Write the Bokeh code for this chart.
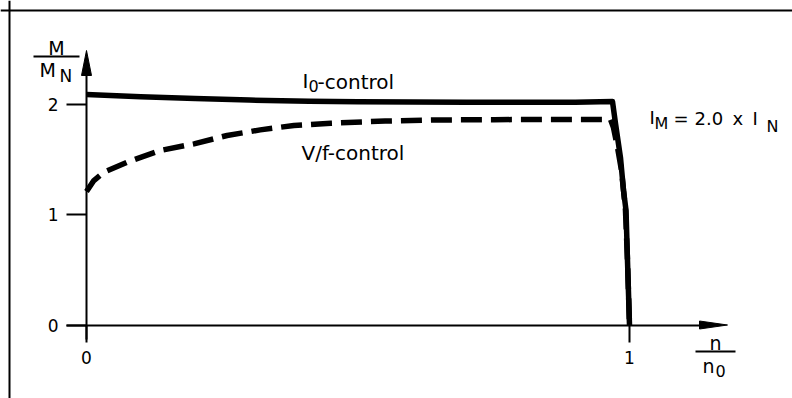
from bokeh.plotting import figure
from bokeh.models import Range1d, LinearAxis, FixedTicker, Label, Span
from bokeh.embed import file_html
from bokeh.resources import INLINE

# ---------------- data (n/n0 , M/MN) ----------------
i0_speed = [0.0, 0.1, 0.2, 0.3, 0.41, 0.5, 0.6, 0.7, 0.8, 0.9, 0.9687,
            0.9742, 0.9834, 0.989, 0.9936, 0.9963, 1.0]
i0_torque = [2.09, 2.07, 2.055, 2.04, 2.03, 2.025, 2.022, 2.02, 2.02, 2.02, 2.027,
             1.828, 1.519, 1.22, 1.039, 0.585, 0.0]

vf_speed = [0.0, 0.0135, 0.032, 0.075, 0.136, 0.198, 0.259, 0.32, 0.382, 0.45,
            0.55, 0.65, 0.75, 0.85, 0.965, 0.9705, 0.9779, 0.9853, 0.989,
            0.9926, 0.9963, 1.0]
vf_torque = [1.21, 1.31, 1.386, 1.477, 1.583, 1.643, 1.719, 1.77, 1.81, 1.83,
             1.85, 1.86, 1.862, 1.865, 1.865, 1.79, 1.61, 1.40, 1.22,
             1.04, 0.585, 0.0]

x_ticks = [0, 1]
y_ticks = [0, 1, 2]

# ---------------- layout (page pixels) ----------------
OFF = 0           # page offset of the plot canvas
W, H = 792, 398
PX_X = 543.0      # pixels per unit on x
PX_Y = 110.25     # pixels per unit on y
X0_PAGE = 86.0    # page x of n = 0
Y0_PAGE = 324.5   # page y of M = 0
TXT_SHIFT = 5     # baseline correction for labels
xs = -(X0_PAGE - OFF) / PX_X
xe = xs + W / PX_X
ye = (Y0_PAGE - OFF) / PX_Y
ys = ye - H / PX_Y


def X(px):
    return xs + (px - OFF) / PX_X


def Y(py):
    return ye - (py - OFF) / PX_Y


FONT = "DejaVu Sans"

p = figure(width=W, height=H, x_range=Range1d(xs, xe), y_range=Range1d(ys, ye),
           output_backend="svg", toolbar_location=None, min_border=0,
           x_axis_type=None, y_axis_type=None)
p.outline_line_color = None
p.background_fill_color = "white"
p.border_fill_color = "white"

# border (top and left only)
p.add_layout(Span(location=Y(10), dimension="width", line_color="black", line_width=2))
p.add_layout(Span(location=X(9), dimension="height", line_color="black", line_width=2))

# axes
yaxis = LinearAxis(fixed_location=0, ticker=FixedTicker(ticks=y_ticks),
                   bounds=(Y(339), Y(72)), major_tick_out=20, major_tick_in=0,
                   minor_tick_out=0, minor_tick_in=0, axis_line_width=2,
                   major_tick_line_width=2, major_label_text_font=FONT,
                   major_label_text_font_size="17px", major_label_standoff=8,
                   major_label_text_color="black")
p.add_layout(yaxis, "left")
xaxis = LinearAxis(fixed_location=0, ticker=FixedTicker(ticks=x_ticks),
                   bounds=(X(66), X(702)), major_tick_out=17, major_tick_in=0,
                   minor_tick_out=0, minor_tick_in=0, axis_line_width=2,
                   major_tick_line_width=2, major_label_text_font=FONT,
                   major_label_text_font_size="17px", major_label_standoff=9,
                   major_label_text_color="black")
p.add_layout(xaxis, "below")

# arrow heads
p.patch([X(86), X(81), X(91)], [Y(50), Y(75), Y(75)], color="black")
p.patch([X(727), X(699), X(699)], [Y(324.5), Y(320.5), Y(328.5)], color="black")

# curves
p.line(i0_speed, i0_torque, line_color="black", line_width=5.5, line_join="round")
p.line(vf_speed, vf_torque, line_color="black", line_width=5.5, line_dash="21 9",
       line_join="round")


def lab(px, py, text, size, align="left"):
    p.add_layout(Label(x=X(px), y=Y(py - TXT_SHIFT), text=text, text_font=FONT,
                       text_font_size=f"{size}px", text_baseline="alphabetic",
                       text_align=align, text_color="black"))


# y axis unit label M / M_N
lab(56, 52, "M", 19, "center")
p.segment(x0=[X(33)], y0=[Y(56)], x1=[X(79)], y1=[Y(56)], line_color="black", line_width=2)
lab(39, 74, "M", 19)
lab(59, 80, "N", 17)

# x axis unit label n / n_0
lab(715, 347, "n", 19, "center")
p.segment(x0=[X(695)], y0=[Y(351)], x1=[X(735)], y1=[Y(351)], line_color="black", line_width=2)
lab(702, 370, "n", 19)
lab(715, 375, "0", 16)

# curve labels
lab(302, 85, "I", 20)
lab(308, 90, "0", 16)
lab(317, 86, "-control", 20)
lab(301, 157, "V/f-control", 20)

# current limit note
lab(649, 122, "I", 18)
lab(654, 128, "M", 16)
lab(673, 123, "=", 18)
lab(694, 123, "2.0", 18)
lab(732, 123, "x", 18)
lab(752, 123, "I", 18)
lab(766, 131, "N", 16)

open("out.html", "w").write(file_html(p, INLINE))
